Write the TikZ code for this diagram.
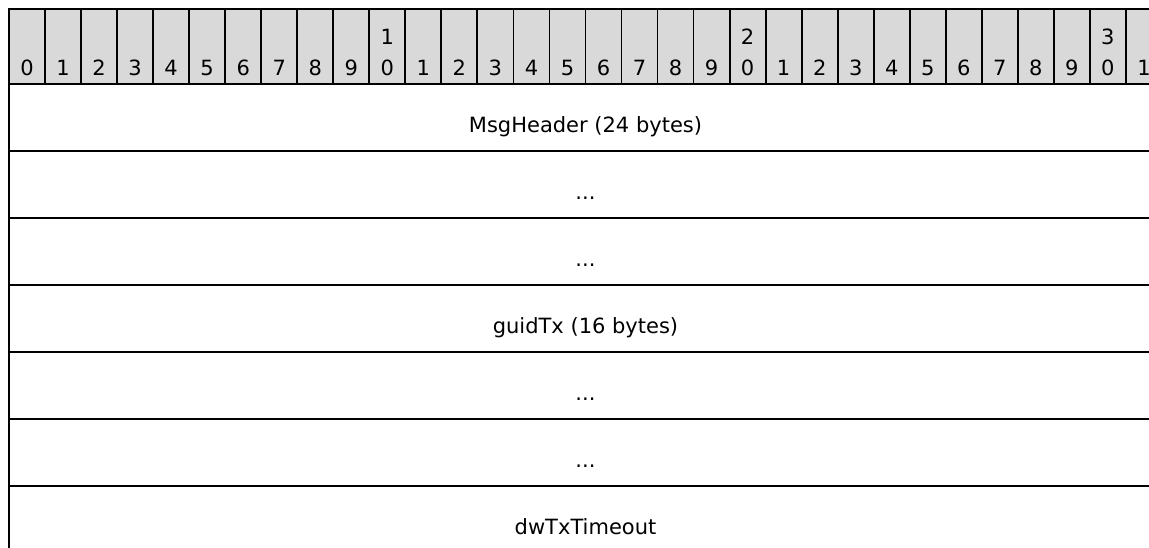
\documentclass[tikz,border=0pt]{standalone}
\usepackage{fontspec}
\newfontfamily\vfont{DejaVu Sans}
\definecolor{hdrgrey}{RGB}{217,217,217}
\begin{document}
\begin{tikzpicture}[x=1pt,y=-1pt,
  cellbox/.style={draw, line width=1.8pt, fill=hdrgrey, minimum width=36.03pt, minimum height=75pt, anchor=north west, inner sep=0pt, outer sep=0pt},
  rowbox/.style={draw, line width=1.8pt, minimum width=1152.96pt, minimum height=67pt, anchor=north west, inner sep=0pt, outer sep=0pt},
  lbl/.style={font=\vfont\fontsize{21}{25}\selectfont, anchor=base, inner sep=0pt}]
\useasboundingbox (0,0) rectangle (1149,548);
\clip (0,0) rectangle (1149,548);
\foreach \i in {0,...,31} {
  \pgfmathtruncatemacro\d{mod(\i,10)}
  \node[cellbox] (h\i) at ({9+\i*36.03},9) {};
  \node[lbl] (hb\i) at ({9+(\i+0.5)*36.03},76) {\d};
}
\foreach \i/\t in {10/1,20/2,30/3}
  \node[lbl] (ht\i) at ({9+(\i+0.5)*36.03},45) {\t};
\node[rowbox] (r1) at (9,84) {};
\node[rowbox] (r2) at (9,151) {};
\node[rowbox] (r3) at (9,218) {};
\node[rowbox] (r4) at (9,285) {};
\node[rowbox] (r5) at (9,352) {};
\node[rowbox] (r6) at (9,419) {};
\node[rowbox] (r7) at (9,486) {};
\node[lbl] (t1) at (585.5,132.5) {MsgHeader (24 bytes)};
\node[lbl] (t2) at (585.5,199.5) {...};
\node[lbl] (t3) at (585.5,266.5) {...};
\node[lbl] (t4) at (585.5,333.5) {guidTx (16 bytes)};
\node[lbl] (t5) at (585.5,400.5) {...};
\node[lbl] (t6) at (585.5,467.5) {...};
\node[lbl] (t7) at (585.5,534.5) {dwTxTimeout};
\end{tikzpicture}
\end{document}
